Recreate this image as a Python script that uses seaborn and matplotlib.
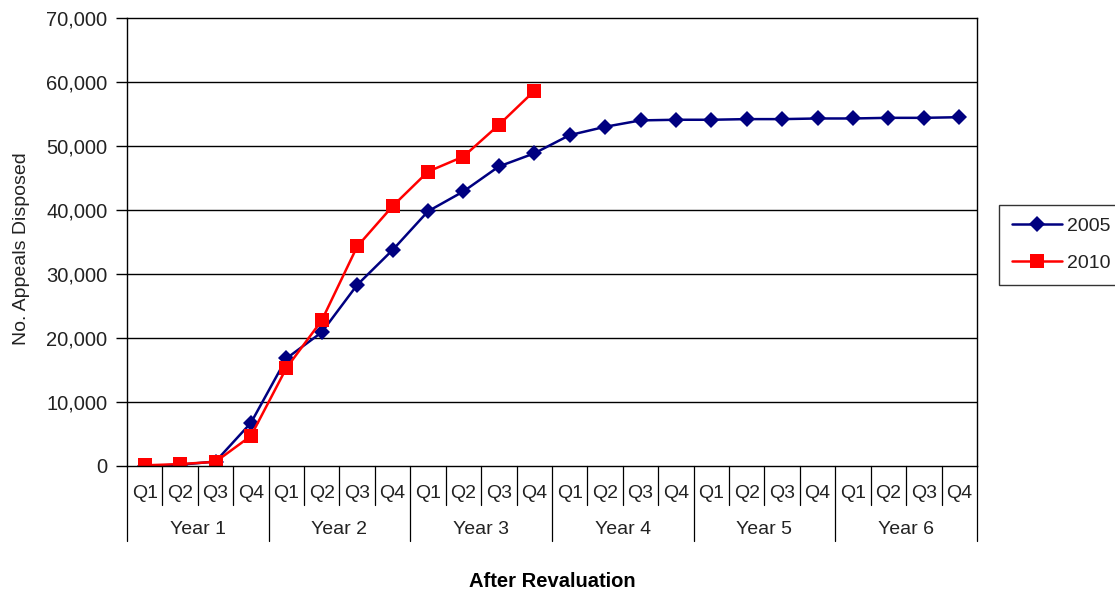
import matplotlib
matplotlib.use("Agg")
import matplotlib.pyplot as plt
import matplotlib.transforms as mtransforms
from matplotlib.ticker import FuncFormatter
import seaborn as sns
import pandas as pd

years = ["Year 1", "Year 2", "Year 3", "Year 4", "Year 5", "Year 6"]
quarters = ["Q1", "Q2", "Q3", "Q4"]
series_2005 = [0, 200, 700, 6750, 16800, 20900, 28300, 33750, 39800, 42900, 46800, 48850,
               51700, 53000, 54000, 54100, 54100, 54200, 54200, 54300, 54300, 54400, 54400, 54500]
series_2010 = [100, 300, 650, 4700, 15300, 22750, 34300, 40600, 46000, 48350, 53300, 58600]
series_names = ["2005", "2010"]

labels = [q for y in years for q in quarters]
frames = {}
for name, vals in zip(series_names, [series_2005, series_2010]):
    frames[name] = pd.DataFrame({"pos": list(range(len(vals))), "value": vals})

sns.set_style("white")
plt.rcParams["font.family"] = ["Liberation Sans", "DejaVu Sans"]

fig = plt.figure(figsize=(11.15, 5.94), dpi=100)
ax = fig.add_axes([0.1139, 0.2155, 0.7623, 0.7542])

styles = {"2005": dict(color="#000080", marker="D", markersize=8.5),
          "2010": dict(color="#FF0000", marker="s", markersize=9.5)}
for name in series_names:
    sns.lineplot(data=frames[name], x="pos", y="value", ax=ax, label=name,
                 linewidth=1.8, markeredgewidth=0, **styles[name])

ax.set_xlim(-0.5, len(labels) - 0.5)
ax.set_ylim(0, 70000)
ax.set_yticks(range(0, 70001, 10000))
ax.yaxis.set_major_formatter(FuncFormatter(lambda v, p: f"{int(v):,}"))
ax.tick_params(axis="y", which="both", length=8, width=1, color="black",
               labelsize=14.5, labelcolor="#222222", pad=6, left=True, direction="out")
ax.set_xticks(range(len(labels)))
ax.set_xticklabels(labels, fontsize=14, color="#222222")
ax.tick_params(axis="x", length=0, pad=14)
for y in range(10000, 70000, 10000):
    ax.axhline(y, color="black", linewidth=1.0, zorder=0)
for s in ax.spines.values():
    s.set_color("black")
    s.set_linewidth(1.0)

ax.set_xlabel("")
fig.text(0.495, 0.021, "After Revaluation", fontsize=14.5, fontweight="bold",
         ha="center", va="center", color="black")
ax.set_ylabel("No. Appeals Disposed", fontsize=14, color="#222222")
ax.yaxis.set_label_coords(-0.114, 0.485)

trans = mtransforms.blended_transform_factory(ax.transData, ax.transAxes)
for i in range(len(labels) + 1):
    x = i - 0.5
    bottom = -0.167 if i % 4 == 0 else -0.087
    ax.plot([x, x], [0, bottom], color="black", linewidth=0.9, transform=trans, clip_on=False)
for k, yname in enumerate(years):
    ax.text(4 * k + 1.5, -0.142, yname, transform=trans, ha="center", va="center",
            fontsize=14, color="#222222")

leg = ax.legend(loc="upper left", bbox_to_anchor=(0.896, 0.655), bbox_transform=fig.transFigure,
                frameon=True, fancybox=False, edgecolor="black", fontsize=14,
                handlelength=2.6, borderpad=0.65, labelspacing=1.0, handletextpad=0.25,
                borderaxespad=0)
leg.get_frame().set_linewidth(1.0)
for t in leg.get_texts():
    t.set_color("#222222")

fig.savefig("out.png", dpi=100)
